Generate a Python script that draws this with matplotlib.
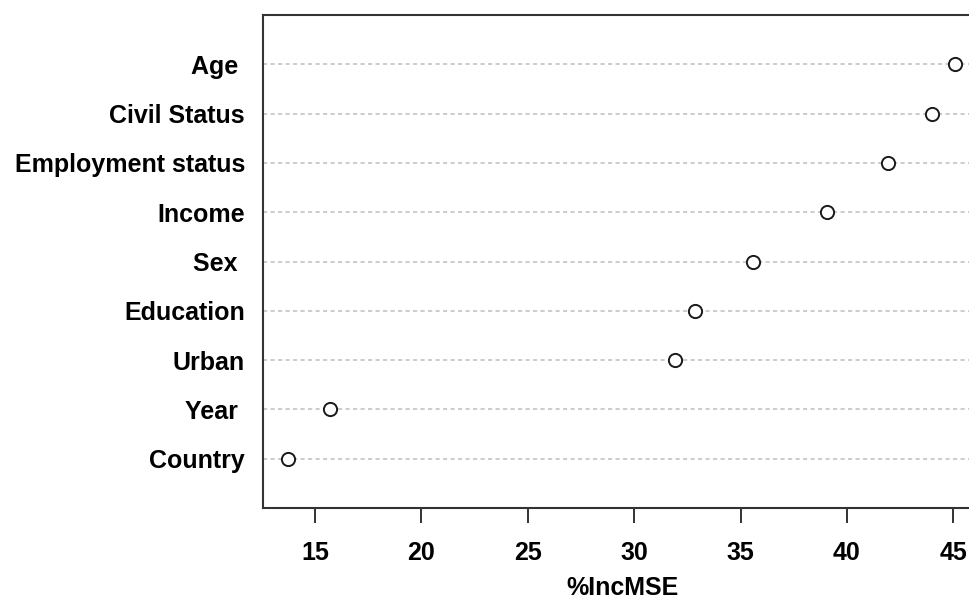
import matplotlib
matplotlib.use('Agg')
import matplotlib.pyplot as plt

# variable importance (random forest), bottom to top
labels = ['Country', 'Year ', 'Urban', 'Education', 'Sex ', 'Income',
          'Employment status', 'Civil Status', 'Age ']
inc_mse = [13.73, 15.7, 31.93, 32.88, 35.57, 39.06, 41.93, 43.99, 45.09]
xticks = [15, 20, 25, 30, 35, 40, 45]

plt.rcParams['font.family'] = ['Liberation Sans', 'DejaVu Sans']
plt.rcParams['font.weight'] = 'bold'

fig = plt.figure(figsize=(9.7, 6.03), dpi=100)
ax = fig.add_axes([263 / 970, 95 / 603, 719 / 970, 493 / 603])

ypos = list(range(1, len(labels) + 1))
for y in ypos:
    ax.axhline(y, color='#c4c4c4', lw=1.2, dashes=(2.5, 2), zorder=1)
ax.plot(inc_mse, ypos, 'o', ms=9.5, mfc='white', mec='#1a1a1a', mew=1.4,
        linestyle='none', zorder=3)

ax.set_xlim(12.55, 46.35)
ax.set_ylim(0, 10)
ax.set_xticks(xticks)
ax.set_xticklabels([str(t) for t in xticks], fontsize=18, fontweight='bold')
ax.set_yticks(ypos)
ax.set_yticklabels(labels, fontsize=18, fontweight='bold')
ax.tick_params(axis='y', length=0, pad=13)
ax.tick_params(axis='x', length=11, width=1.4, color='#333333', pad=13)
ax.set_xlabel('%IncMSE', fontsize=18, fontweight='bold', labelpad=8)

for s in ax.spines.values():
    s.set_linewidth(1.5)
    s.set_color('#333333')

fig.savefig('out.png', dpi=100)
